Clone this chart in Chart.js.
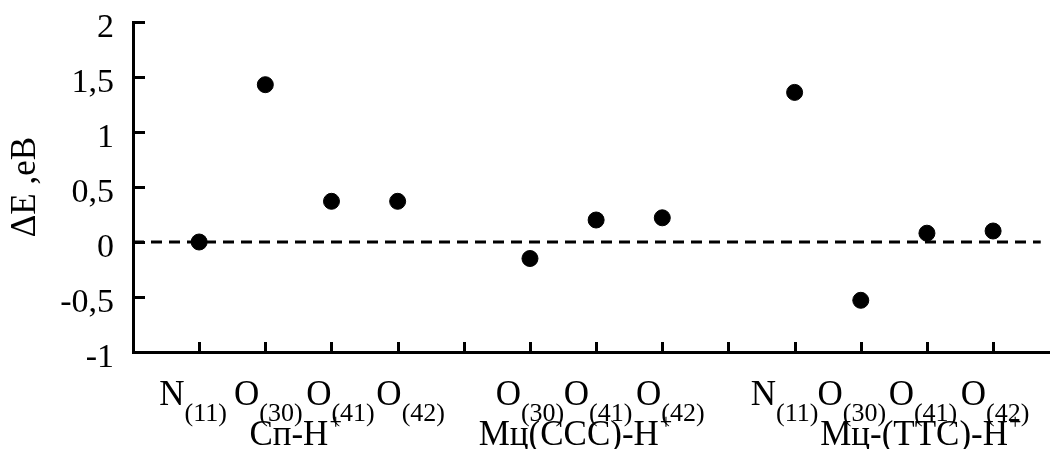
<!DOCTYPE html>
<html>
<head>
<meta charset="utf-8">
<script src="https://cdn.jsdelivr.net/npm/chart.js@4"></script>
<style>
  body { margin: 0; background: #fff; }
  #box { width: 1050px; height: 449px; }
</style>
</head>
<body>
<div id="box"><canvas id="energyChart"></canvas></div>
<script>
// protonation sites, one slot per x position (empty slots separate the groups)
const atoms = ['N', 'O', 'O', 'O', '', 'O', 'O', 'O', '', 'N', 'O', 'O', 'O'];
const atomNumbers = ['(11)', '(30)', '(41)', '(42)', '', '(30)', '(41)', '(42)', '', '(11)', '(30)', '(41)', '(42)'];
const deltaE = [0, 1.43, 0.37, 0.37, null, -0.15, 0.20, 0.22, null, 1.36, -0.53, 0.08, 0.10];
const groupNames = ['Сп-Н', 'Мц(ССС)-Н', 'Мц-(ТТС)-Н'];
const groupCharge = '+';
const yTicks = [-1, -0.5, 0, 0.5, 1, 1.5, 2];

const SERIF = "'Liberation Serif', 'Times New Roman', serif";

// where the group captions sit on the x axis, and small nudges for the atom labels (px)
const groupAt = [2.45, 6.68, 11.9];
const labelNudge = [-6, 3, 9, 13, 0, 0, 2, 8, 0, -10, -9, -4, 2];

const points = deltaE
    .map((v, i) => ({ x: i + 1, y: v }))
    .filter(p => p.y !== null);

// inward tick marks plus the two-level x labels with sub/superscripts
const axisDecor = {
    id: 'axisDecor',
    afterDraw(chart) {
        const { ctx, chartArea, scales } = chart;
        const x = scales.x, y = scales.y;
        ctx.save();
        ctx.strokeStyle = '#000';
        ctx.lineWidth = 3;
        ctx.beginPath();
        atoms.forEach((a, i) => {
            const px = Math.round(x.getPixelForValue(i + 1)) + 0.5;
            ctx.moveTo(px, chartArea.bottom);
            ctx.lineTo(px, chartArea.bottom - 10);
        });
        yTicks.forEach(v => {
            const py = Math.round(y.getPixelForValue(v)) + 0.5;
            ctx.moveTo(chartArea.left, py);
            ctx.lineTo(chartArea.left + 12, py);
        });
        ctx.stroke();

        ctx.fillStyle = '#000';
        ctx.textBaseline = 'alphabetic';
        ctx.textAlign = 'left';
        const mainFont = '35px ' + SERIF;
        const subFont = '26px ' + SERIF;
        atoms.forEach((a, i) => {
            if (!a) return;
            ctx.font = mainFont;
            const w1 = ctx.measureText(a).width;
            ctx.font = subFont;
            const w2 = ctx.measureText(atomNumbers[i]).width;
            const cx = x.getPixelForValue(i + 1) + labelNudge[i];
            const left = cx - (w1 + w2) / 2;
            ctx.font = mainFont;
            ctx.fillText(a, left, 405);
            ctx.font = subFont;
            ctx.fillText(atomNumbers[i], left + w1, 421);
        });

        const grpFont = '35px ' + SERIF;
        const supFont = '22px ' + SERIF;
        groupNames.forEach((g, i) => {
            ctx.font = grpFont;
            const w1 = ctx.measureText(g).width;
            ctx.font = supFont;
            const w2 = ctx.measureText(groupCharge).width;
            const left = x.getPixelForValue(groupAt[i]) - (w1 + w2) / 2;
            ctx.font = grpFont;
            ctx.fillText(g, left, 445);
            ctx.font = supFont;
            ctx.fillText(groupCharge, left + w1 + 1, 429);
        });
        ctx.restore();
    }
};

new Chart(document.getElementById('energyChart'), {
    type: 'scatter',
    data: {
        datasets: [{
            data: points,
            backgroundColor: '#000',
            borderColor: '#000',
            pointRadius: 8,
            pointHoverRadius: 8
        }, {
            type: 'line',
            data: [{ x: 0, y: 0 }, { x: 13.72, y: 0 }],
            borderColor: '#000',
            borderWidth: 3,
            borderDash: [11, 7],
            pointRadius: 0,
            fill: false
        }]
    },
    options: {
        responsive: true,
        maintainAspectRatio: false,
        animation: false,
        layout: { autoPadding: false, padding: { top: 22, right: 0, bottom: 0, left: 0 } },
        plugins: {
            legend: { display: false },
            tooltip: { enabled: false }
        },
        scales: {
            x: {
                type: 'linear',
                min: 0,
                max: 13.86,
                ticks: { display: false },
                grid: { display: false, drawTicks: false },
                border: { color: '#000', width: 3 },
                afterFit(scale) {
                    scale.height = 97;
                    scale.paddingLeft = 0;
                    scale.paddingRight = 0;
                }
            },
            y: {
                min: -1,
                max: 2,
                afterBuildTicks(scale) {
                    scale.ticks = yTicks.map(v => ({ value: v }));
                },
                ticks: {
                    color: '#000',
                    font: { family: SERIF, size: 34 },
                    padding: 19,
                    labelOffset: 6,
                    callback: v => String(v).replace('.', ',')
                },
                grid: { display: false, drawTicks: false },
                border: { color: '#000', width: 3 },
                title: {
                    display: true,
                    text: 'ΔE ,еВ',
                    color: '#000',
                    font: { family: SERIF, size: 35 },
                    padding: { top: 5, bottom: 0 }
                },
                afterFit(scale) {
                    scale.width = 133;
                    scale.paddingTop = 0;
                    scale.paddingBottom = 0;
                }
            }
        }
    },
    plugins: [axisDecor]
});
</script>
</body>
</html>
